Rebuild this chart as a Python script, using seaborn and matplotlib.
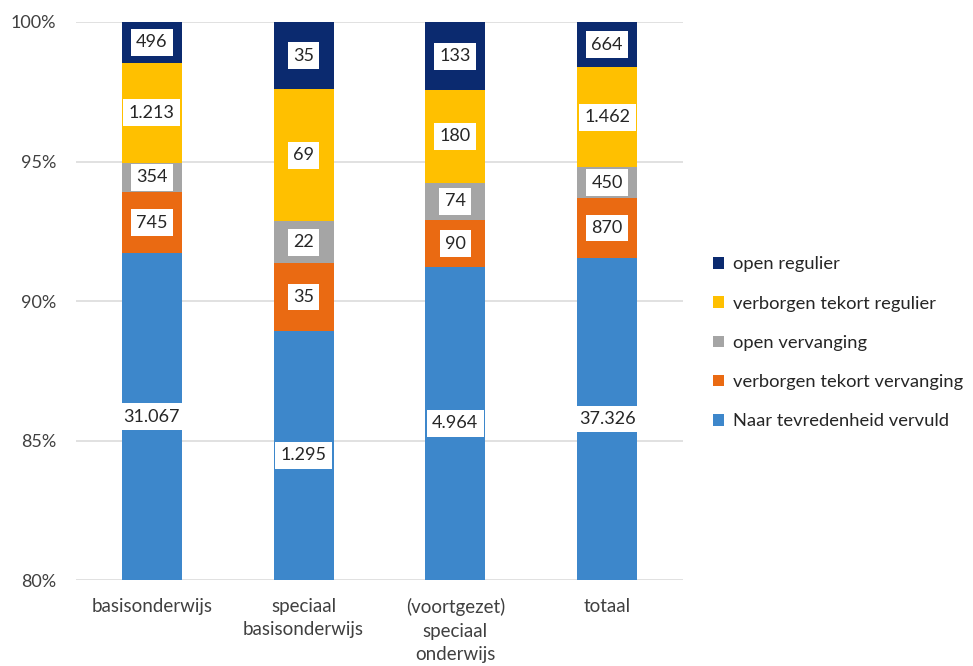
import numpy as np
import pandas as pd
import seaborn as sns
import matplotlib.pyplot as plt
from matplotlib.patches import Patch
from matplotlib.ticker import PercentFormatter

categories = ["basisonderwijs", "speciaal\nbasisonderwijs", "(voortgezet)\nspeciaal\nonderwijs", "totaal"]

# counts per series, bottom to top
vervuld = [31067, 1295, 4964, 37326]
tekort_vervanging = [745, 35, 90, 870]
open_vervanging = [354, 22, 74, 450]
tekort_regulier = [1213, 69, 180, 1462]
open_regulier = [496, 35, 133, 664]

series_names = ["Naar tevredenheid vervuld", "verborgen tekort vervanging", "open vervanging",
                "verborgen tekort regulier", "open regulier"]
series_values = [vervuld, tekort_vervanging, open_vervanging, tekort_regulier, open_regulier]
colors = ["#3D87CB", "#EA6A12", "#A5A5A5", "#FFC000", "#0B2A6F"]

counts = np.array(series_values, dtype=float)
shares = counts / counts.sum(axis=0)
tops = np.cumsum(shares, axis=0)
bottoms = tops - shares

sns.set_theme(style="white")
plt.rcParams["font.family"] = ["Lato", "DejaVu Sans"]

fig = plt.figure(figsize=(9.73, 6.66), dpi=100)
ax = fig.add_axes([0.078, 0.129, 0.624, 0.838])

ymin = 0.80
for y in [0.80, 0.85, 0.90, 0.95, 1.00]:
    ax.axhline(y, color="#D9D9D9", lw=1.1, zorder=0)

# stack by drawing cumulative totals, tallest first
for i in range(len(series_names) - 1, -1, -1):
    df = pd.DataFrame({"cat": categories, "val": tops[i]})
    sns.barplot(data=df, x="cat", y="val", color=colors[i], saturation=1,
                width=0.395, linewidth=0, ax=ax, zorder=2)

def fmt(n):
    return f"{int(n):,}".replace(",", ".")

for i in range(len(series_names)):
    for j in range(len(categories)):
        lo = max(bottoms[i, j], ymin)
        hi = tops[i, j]
        ax.text(j, (lo + hi) / 2, fmt(counts[i, j]), ha="center", va="center",
                fontsize=13, color="#262626", zorder=5,
                bbox=dict(boxstyle="square,pad=0.3", fc="white", ec="none"))

ax.set_ylim(ymin, 1.0)
ax.set_xlim(-0.5, len(categories) - 0.5)
ax.set_yticks([0.80, 0.85, 0.90, 0.95, 1.00])
ax.yaxis.set_major_formatter(PercentFormatter(1.0, decimals=0))
ax.set_xlabel("")
ax.set_ylabel("")
ax.tick_params(axis="y", length=0, pad=14, labelsize=13, labelcolor="#404040")
ax.tick_params(axis="x", length=0, pad=13, labelsize=13.5, labelcolor="#404040")
for t in ax.get_xticklabels():
    t.set_linespacing(1.45)
sns.despine(ax=ax, left=True, bottom=True)

handles = [Patch(facecolor=colors[i], edgecolor="none") for i in range(len(series_names) - 1, -1, -1)]
labels = series_names[::-1]
fig.legend(handles, labels, loc="upper left", bbox_to_anchor=(0.716, 0.64), frameon=False,
           fontsize=13.2, labelcolor="#262626", handlelength=0.6, handleheight=0.6,
           handletextpad=0.5, labelspacing=1.27)

fig.savefig("out.png", dpi=100)
